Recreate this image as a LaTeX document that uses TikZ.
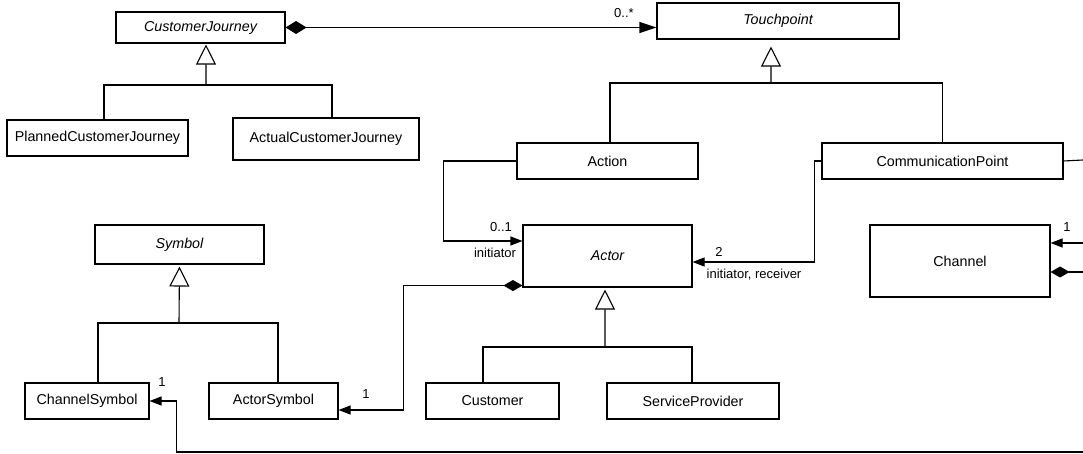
\documentclass[tikz,border=0pt]{standalone}
\usepackage{fontspec}
\setmainfont{Liberation Sans}
\usetikzlibrary{arrows.meta}

\begin{document}
\begin{tikzpicture}[
  x=1bp, y=-1bp,
  every path/.style={line width=1.1bp},
  cls/.style={draw, rectangle, inner sep=0pt, fill=white,
    font=\fontsize{14.3bp}{17bp}\selectfont},
  abstractcls/.style={cls, font=\fontsize{14.3bp}{17bp}\selectfont\itshape},
  lbl/.style={inner sep=0pt, font=\fontsize{13bp}{15bp}\selectfont},
  link/.style={draw, line join=miter},
  gen/.style={link, -{Triangle[open, length=20bp, width=20bp]}},
  nav/.style={link, -{Triangle[length=12bp, width=9bp]}},
  comp/.style={link, {Diamond[length=19bp, width=11bp]}-},
  compnav/.style={link, {Diamond[length=19bp, width=11bp]}-{Triangle[length=12bp, width=9bp]}}
]
\useasboundingbox (0,0) rectangle (1083,454);

% classes
\node[abstractcls, minimum width=169bp, minimum height=31bp] (cj)  at (200.5,27.5) {CustomerJourney};
\node[abstractcls, minimum width=242bp, minimum height=36bp] (tp)  at (778,21)     {Touchpoint};
\node[cls, minimum width=181bp, minimum height=36bp] (pcj) at (97.5,138)  {PlannedCustomerJourney};
\node[cls, minimum width=186bp, minimum height=42bp] (acj) at (326,139)   {ActualCustomerJourney};
\node[cls, minimum width=181bp, minimum height=36bp] (act) at (607.5,161) {Action};
\node[cls, minimum width=241bp, minimum height=36bp] (cp)  at (942.5,161) {CommunicationPoint};
\node[cls, minimum width=180bp, minimum height=72bp] (ch)  at (960,261)   {Channel};
\node[abstractcls, minimum width=169bp, minimum height=62bp] (ac)  at (607.5,256) {Actor};
\node[abstractcls, minimum width=169bp, minimum height=39bp] (sym) at (179.5,244.5) {Symbol};
\node[cls, minimum width=124bp, minimum height=36bp] (cs)  at (87,401)    {ChannelSymbol};
\node[cls, minimum width=129bp, minimum height=36bp] (as)  at (273.5,401) {ActorSymbol};
\node[cls, minimum width=133bp, minimum height=36bp] (cu)  at (492.5,401) {Customer};
\node[cls, minimum width=172bp, minimum height=36bp] (sp)  at (693,401)   {ServiceProvider};

% junctions of the generalization trees
\coordinate (cjj)  at (206,85);
\coordinate (tpj)  at (771,83);
\coordinate (symj) at (179,323);
\coordinate (acj2) at (605,347);

% loose ends running off to the right
\coordinate (cpR) at (1083,160);
\coordinate (chA) at (1083,243);
\coordinate (chD) at (1083,272);
\coordinate (bot) at (1083,452);

% generalizations
\draw[link] ([xshift=6.5bp]pcj.north) |- (cjj) -| ([xshift=6bp]acj.north);
\draw[gen, shorten >=1bp] (cjj) -- ([xshift=5.5bp]cj.south);

\draw[link] ([xshift=2.5bp]act.north) |- (tpj) -| (cp.north);
\draw[gen, shorten >=7bp] (tpj) -- ([xshift=-7bp]tp.south);

\draw[link] ([xshift=11bp]cs.north) |- (symj) -| ([xshift=4.5bp]as.north);
\draw[gen, shorten >=2bp] (symj) -- (sym.south);

\draw[link] ([xshift=-9.5bp]cu.north) |- (acj2) -| ([xshift=-1bp]sp.north);
\draw[gen, shorten >=2bp] (acj2) -- ([xshift=-2.5bp]ac.south);

% associations
\draw[link, {Diamond[length=21bp, width=13bp]}-{Triangle[length=17bp, width=11bp]}]
  (cj.east) -- (cj.east -| tp.west);
\node[lbl] (lzs) at (624,13) {0..*};

\draw[nav] (act.west) -- ++(-73,0) |- ([yshift=15bp]ac.west);
\node[lbl] (l01) at (501,227) {0..1};
\node[lbl] (lini) at (495,253) {initiator};

\draw[nav] (cp.west) -- ++(-7,0) |- ([yshift=-6bp]ac.east);
\node[lbl] (l2) at (719,252) {2};
\node[lbl] (lir) at (754,275) {initiator, receiver};

\draw[compnav] ([yshift=2bp]ac.south west) -- ++(-119,0) |- ([yshift=-9bp]as.east);
\node[lbl] (l1a) at (366,394) {1};

\draw[link] (cp.east) -- (cpR);
\draw[nav] (chA) -- (chA -| ch.east);
\node[lbl] (l1c) at (1067,227) {1};
\draw[comp] (chD -| ch.east) -- (chD);

\draw[nav] (bot) -| ([xshift=27bp]cs.east) -- (cs.east);
\node[lbl] (l1s) at (162,382) {1};

\end{tikzpicture}
\end{document}
